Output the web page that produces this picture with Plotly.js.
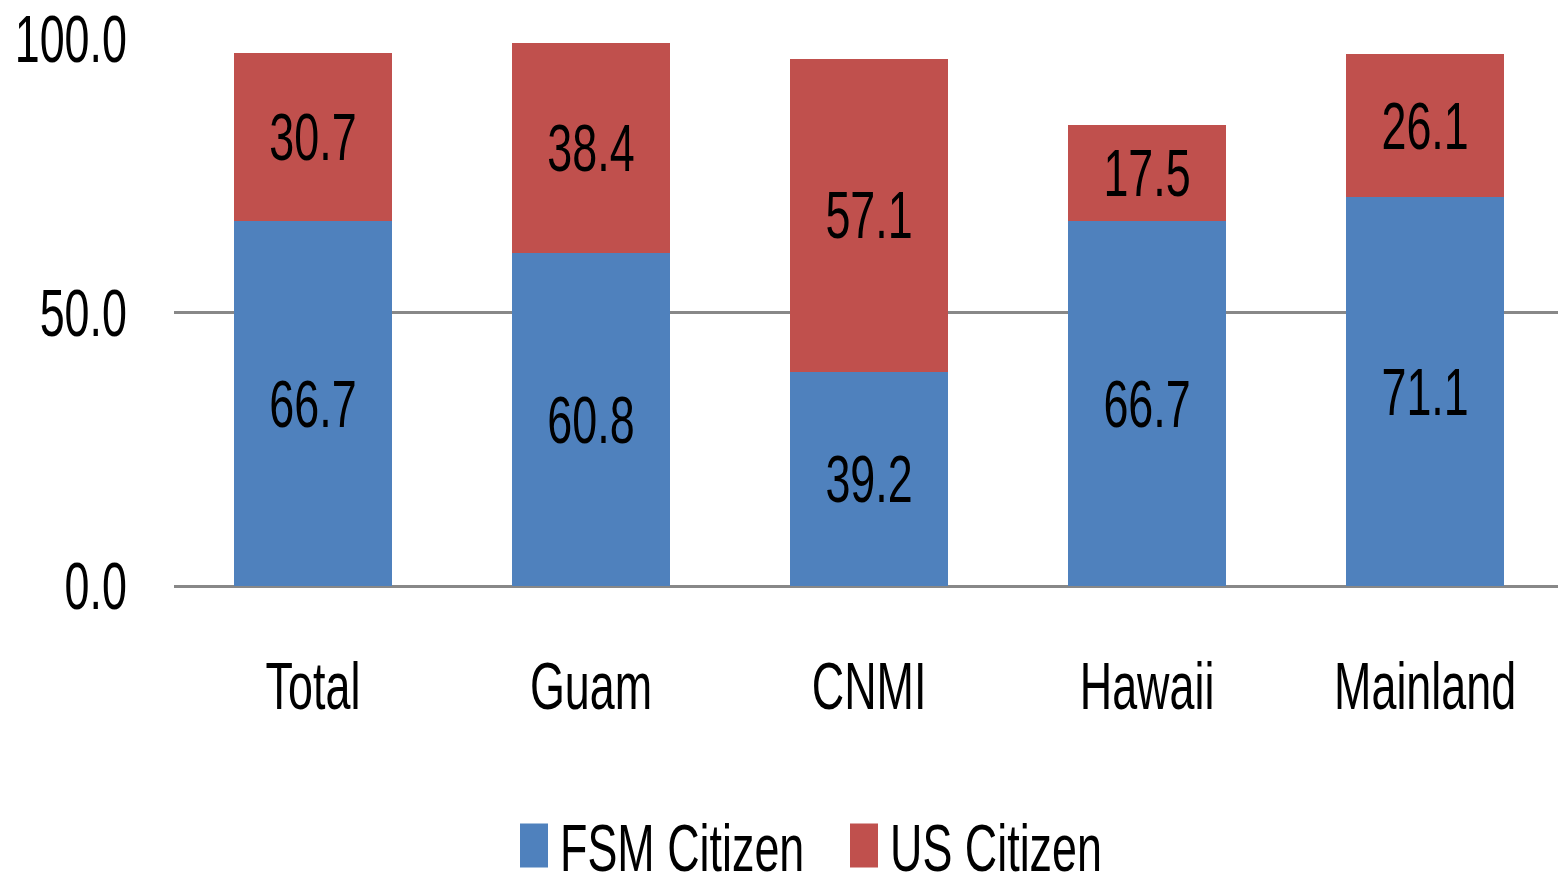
<!DOCTYPE html>
<html>
<head>
<meta charset="utf-8">
<script src="https://cdn.plot.ly/plotly-3.0.1.min.js"></script>
<style>html,body{margin:0;padding:0;background:#fff;}#chart{width:1558px;height:878px;}</style>
</head>
<body>
<div id="chart"></div>
<script>
const categories = ["Total", "Guam", "CNMI", "Hawaii", "Mainland"];
const fsmCitizen = [66.7, 60.8, 39.2, 66.7, 71.1];
const usCitizen = [30.7, 38.4, 57.1, 17.5, 26.1];
const seriesNames = ["FSM Citizen", "US Citizen"];
const yTicks = [0, 50, 100];

const FONT = "Liberation Sans, Arial, sans-serif";
const FS = 66;
const SQUEEZE = 0.68;

const traces = [
  {
    type: "bar", name: seriesNames[0], x: categories, y: fsmCitizen,
    marker: {color: "#4F81BD"},
    texttemplate: "%{y:.1f}", textposition: "inside", insidetextanchor: "middle",
    constraintext: "none",
    textfont: {family: FONT, size: FS, color: "#000"}, hoverinfo: "skip"
  },
  {
    type: "bar", name: seriesNames[1], x: categories, y: usCitizen,
    marker: {color: "#C0504D"},
    texttemplate: "%{y:.1f}", textposition: "inside", insidetextanchor: "middle",
    constraintext: "none",
    textfont: {family: FONT, size: FS, color: "#000"}, hoverinfo: "skip"
  }
];

const layout = {
  width: 1558, height: 878,
  margin: {l: 174, r: 0, t: 39, b: 292},
  barmode: "stack",
  bargap: 0.43,
  paper_bgcolor: "#fff", plot_bgcolor: "#fff",
  font: {family: FONT, size: FS, color: "#000"},
  xaxis: {
    type: "category", range: [-0.5, 4.478],
    showgrid: false, showline: false, ticks: "",
    tickfont: {family: FONT, size: FS, color: "#000"},
    ticklabelstandoff: 56
  },
  yaxis: {
    range: [0, 100], tickvals: yTicks, tickformat: ".1f",
    showgrid: true, gridcolor: "#888", gridwidth: 3,
    zeroline: true, zerolinecolor: "#888", zerolinewidth: 3,
    showline: false, ticks: "",
    tickfont: {family: FONT, size: FS, color: "#000"},
    ticklabelstandoff: 46
  },
  showlegend: true,
  legend: {
    orientation: "h", xref: "container", yref: "container",
    x: 520 / 1558, y: 0.037, xanchor: "left", yanchor: "middle",
    font: {family: FONT, size: FS, color: "#000"},
    entrywidth: 285, entrywidthmode: "pixels",
    traceorder: "normal"
  }
};

function squeeze(root, s) {
  root.querySelectorAll("text").forEach(t => {
    const x = parseFloat(t.getAttribute("x")) || 0;
    const prev = t.getAttribute("transform") || "";
    t.setAttribute("transform", prev + " translate(" + x + ",0) scale(" + s + ",1) translate(" + (-x) + ",0)");
  });
}

Plotly.newPlot("chart", traces, layout, {displayModeBar: false, staticPlot: true}).then(gd => {
  squeeze(gd, SQUEEZE);
  gd.querySelectorAll(".legendpoints path").forEach(p => {
    p.setAttribute("d", "M8,22H-20V-22H8Z");
  });
});
</script>
</body>
</html>
